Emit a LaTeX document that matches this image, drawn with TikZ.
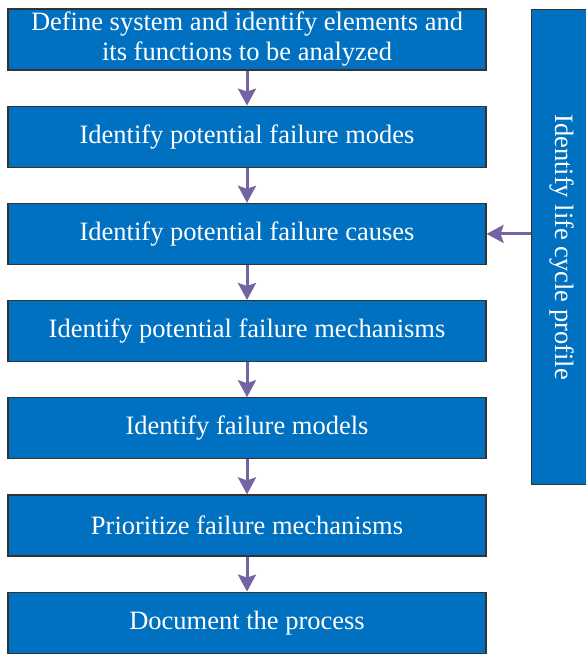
\documentclass[tikz,border=0pt]{standalone}
\usepackage{fontspec}
\setmainfont{Liberation Serif}
\usetikzlibrary{arrows.meta, positioning}

\definecolor{boxblue}{HTML}{0070C0}
\definecolor{arrowpurple}{HTML}{7464A4}

\begin{document}
\begin{tikzpicture}[
    x=1pt, y=1pt,
    node distance=35pt,
    stage/.style={rectangle, draw=black!80, line width=1.2pt, fill=boxblue, text=white, align=center, minimum height=61pt, minimum width=478pt, inner sep=0pt, font=\fontsize{26.5}{30}\selectfont},
    side/.style={rectangle, draw=black!80, line width=1.2pt, fill=boxblue, text=white, minimum height=475pt, minimum width=60pt, inner sep=0pt},
    arrow/.style={-{Stealth[length=17pt, width=18pt, inset=3pt]}, line width=3pt, draw=arrowpurple}
]
\useasboundingbox (0,0) rectangle (586,-654);

\node[stage] (define) at (247,-39.5) {Define system and identify elements and\\its functions to be analyzed};
\node[stage, below=of define] (modes) {Identify potential failure modes};
\node[stage, below=of modes] (causes) {Identify potential failure causes};
\node[stage, below=of causes] (mechs) {Identify potential failure mechanisms};
\node[stage, below=of mechs] (models) {Identify failure models};
\node[stage, below=of models] (prior) {Prioritize failure mechanisms};
\node[stage, below=of prior] (doc) {Document the process};

\node[side, anchor=north west] (profile) at (531,-9) {};
\node[rotate=-90, text=white, font=\fontsize{26.5}{30}\selectfont] (profiletext) at (profile.center) {Identify life cycle profile};

\draw[arrow] (define) -- (modes);
\draw[arrow] (modes) -- (causes);
\draw[arrow] (causes) -- (mechs);
\draw[arrow] (mechs) -- (models);
\draw[arrow] (models) -- (prior);
\draw[arrow] (prior) -- (doc);
\draw[arrow] (profile.west |- causes) -- (causes.east);
\end{tikzpicture}
\end{document}
